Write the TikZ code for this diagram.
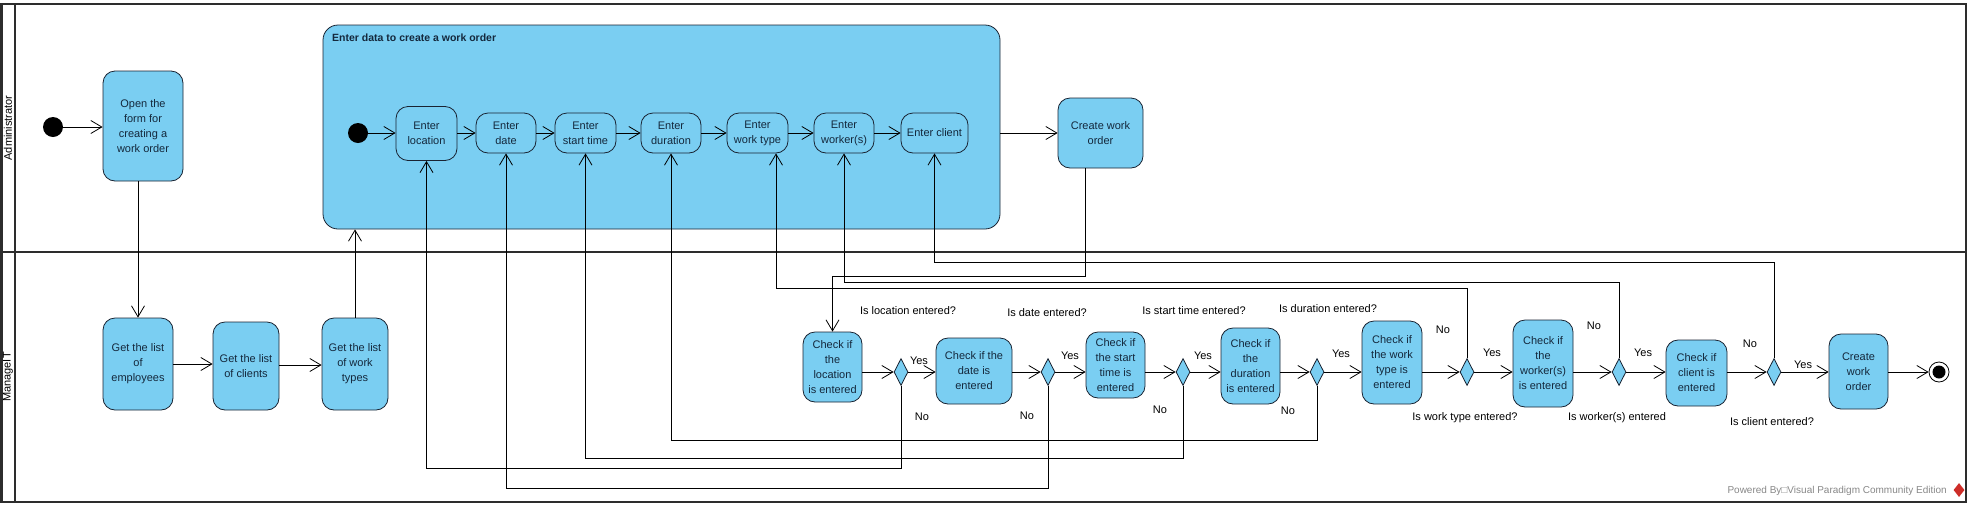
\documentclass[tikz,border=0pt]{standalone}
\usepackage{fontspec}
\setmainfont{Liberation Sans}
\usetikzlibrary{arrows.meta,shapes.geometric,calc}
\definecolor{vpblue}{RGB}{122,206,242}
\definecolor{vpline}{RGB}{25,35,50}
\definecolor{vptext}{RGB}{20,40,60}
\definecolor{framecol}{RGB}{45,45,45}
\definecolor{logored}{RGB}{205,45,40}
\definecolor{pwgray}{RGB}{135,135,135}
\begin{document}
\begin{tikzpicture}[x=1pt,y=-1pt,
  act/.style={draw=vpline, fill=vpblue, rounded corners=12pt, line width=0.8pt, align=center, inner sep=0pt, text=vptext, font=\fontsize{11}{15}\selectfont},
  dec/.style={diamond, draw=vpline, fill=vpblue, line width=0.8pt, minimum width=14pt, minimum height=27pt, inner sep=0pt},
  initdot/.style={circle, fill=black, minimum size=20pt, inner sep=0pt},
  flow/.style={-{Straight Barb[length=11pt,width=13pt]}, line width=0.8pt, draw=black},
  lbl/.style={font=\fontsize{11}{13}\selectfont, inner sep=0pt, text=black},
  lane/.style={framecol, line width=2.2pt}
]
\useasboundingbox (0,0) rectangle (1970,507);
% frame
\draw[lane] (1.5,4) rectangle (1966,502);
\draw[lane] (15,4) -- (15,502);
\draw[lane] (1.5,252) -- (1966,252);
\node[rotate=90, lbl] (laneA) at (8,128) {Administrator};
\node[rotate=90, lbl] (laneM) at (8,377) {ManageIT};

% container
\node[draw=vpline, fill=vpblue, rounded corners=15pt, line width=0.8pt, minimum width=677pt, minimum height=204pt, inner sep=0pt] (cont) at (661.5,127) {};
\node[anchor=west, font=\bfseries\fontsize{10.5}{12}\selectfont, text=vptext, inner sep=0pt] (conttitle) at (332,38) {Enter data to create a work order};

% administrator lane
\node[initdot] (i1) at (53,127) {};
\node[act, minimum width=80pt, minimum height=110pt] (open) at (143,126) {Open the\\form for\\creating a\\work order};
\node[initdot] (i2) at (358,133) {};
\node[act, minimum width=61pt, minimum height=54pt] (loc) at (426.5,133.5) {Enter\\location};
\node[act, minimum width=60pt, minimum height=40pt] (date) at (506,133) {Enter\\date};
\node[act, minimum width=61pt, minimum height=40pt] (stime) at (585.5,133) {Enter\\start time};
\node[act, minimum width=60pt, minimum height=40pt] (dur) at (671,133) {Enter\\duration};
\node[act, minimum width=61pt, minimum height=40pt] (wtype) at (757.5,133) {Enter\\work type};
\node[act, minimum width=60pt, minimum height=40pt] (worker) at (844,133) {Enter\\worker(s)};
\node[act, minimum width=67pt, minimum height=40pt] (client) at (934.5,133) {Enter client};
\node[act, minimum width=85pt, minimum height=70pt] (cwo) at (1100.5,133) {Create work\\order};

% manageIT lane
\node[act, minimum width=70pt, minimum height=92pt] (emp) at (138,364) {Get the list\\of\\employees};
\node[act, minimum width=66pt, minimum height=88pt] (cli) at (246,366) {Get the list\\of clients};
\node[act, minimum width=66pt, minimum height=92pt] (wt) at (355,364) {Get the list\\of work\\types};

\node[act, minimum width=59pt, minimum height=70pt] (chkloc) at (832.5,367) {Check if\\the\\location\\is entered};
\node[dec] (d1) at (901,372) {};
\node[act, minimum width=76pt, minimum height=66pt] (chkdate) at (974,371) {Check if the\\date is\\entered};
\node[dec] (d2) at (1048,372) {};
\node[act, minimum width=59pt, minimum height=66pt] (chkstart) at (1115.5,365) {Check if\\the start\\time is\\entered};
\node[dec] (d3) at (1183,372) {};
\node[act, minimum width=59pt, minimum height=76pt] (chkdur) at (1250.5,366) {Check if\\the\\duration\\is entered};
\node[dec] (d4) at (1317,372) {};
\node[act, minimum width=60pt, minimum height=83pt] (chkwt) at (1392,362.5) {Check if\\the work\\type is\\entered};
\node[dec] (d5) at (1467,372) {};
\node[act, minimum width=60pt, minimum height=87pt] (chkwk) at (1543,363.5) {Check if\\the\\worker(s)\\is entered};
\node[dec] (d6) at (1619,372) {};
\node[act, minimum width=61pt, minimum height=66pt] (chkcl) at (1696.5,373) {Check if\\client is\\entered};
\node[dec] (d7) at (1774,372) {};
\node[act, minimum width=59pt, minimum height=75pt] (cwo2) at (1858.5,371.5) {Create\\work\\order};
\node[circle, draw=black, fill=white, line width=0.8pt, minimum size=20pt, inner sep=0pt] (fin) at (1939,372) {};
\node[circle, fill=black, minimum size=13pt, inner sep=0pt] (findot) at (fin) {};

% labels
\node[lbl] (q1) at (908,311) {Is location entered?};
\node[lbl] (q2) at (1047,313) {Is date entered?};
\node[lbl] (q3) at (1194,311) {Is start time entered?};
\node[lbl] (q4) at (1328,309) {Is duration entered?};
\node[lbl] (q5) at (1465,418) {Is work type entered?};
\node[lbl] (q6) at (1617,418) {Is worker(s) entered};
\node[lbl] (q7) at (1772,422) {Is client entered?};
\node[lbl] (y1) at (919,361) {Yes};
\node[lbl] (n1) at (922,417) {No};
\node[lbl] (y2) at (1070,356) {Yes};
\node[lbl] (n2) at (1027,416) {No};
\node[lbl] (y3) at (1203,356) {Yes};
\node[lbl] (n3) at (1160,410) {No};
\node[lbl] (y4) at (1341,354) {Yes};
\node[lbl] (n4) at (1288,411) {No};
\node[lbl] (y5) at (1492,353) {Yes};
\node[lbl] (n5) at (1443,330) {No};
\node[lbl] (y6) at (1643,353) {Yes};
\node[lbl] (n6) at (1594,326) {No};
\node[lbl] (y7) at (1803,365) {Yes};
\node[lbl] (n7) at (1750,344) {No};

\node[anchor=east, inner sep=0pt, text=pwgray, font=\fontsize{10}{12}\selectfont] (pw) at (1947,491) {Powered By□Visual Paradigm Community Edition};
\node[diamond, fill=logored, minimum width=11pt, minimum height=14pt, inner sep=0pt] (logo) at (1959,490) {};

% connectors - administrator
\draw[flow] (i1.east) -- (open.west |- i1.east);
\draw[flow] (emp.north |- open.south) -- (emp.north);
\draw[flow] (emp.east) -- (emp.east -| cli.west);
\draw[flow] (cli.east |- 0,365) -- (wt.west |- 0,365);
\draw[flow] (wt.north) -- (wt.north |- cont.south);
\draw[flow] (i2.east) -- (i2.east -| loc.west);
\draw[flow] (loc.east |- date.west) -- (date.west);
\draw[flow] (date.east) -- (stime.west);
\draw[flow] (stime.east) -- (dur.west);
\draw[flow] (dur.east) -- (wtype.west);
\draw[flow] (wtype.east) -- (worker.west);
\draw[flow] (worker.east) -- (client.west);
\draw[flow] (cont.east |- cwo.west) -- (cwo.west);
\draw[flow] ([xshift=-15pt]cwo.south) -- ++(0,108) -| (chkloc.north);

% main flow - manageIT
\draw[flow] (d1.west -| chkloc.east) -- (d1.west);
\draw[flow] (d1.east) -- (d1.east -| chkdate.west);
\draw[flow] (d2.west -| chkdate.east) -- (d2.west);
\draw[flow] (d2.east) -- (d2.east -| chkstart.west);
\draw[flow] (d3.west -| chkstart.east) -- (d3.west);
\draw[flow] (d3.east) -- (d3.east -| chkdur.west);
\draw[flow] (d4.west -| chkdur.east) -- (d4.west);
\draw[flow] (d4.east) -- (d4.east -| chkwt.west);
\draw[flow] (d5.west -| chkwt.east) -- (d5.west);
\draw[flow] (d5.east) -- (d5.east -| chkwk.west);
\draw[flow] (d6.west -| chkwk.east) -- (d6.west);
\draw[flow] (d6.east) -- (d6.east -| chkcl.west);
\draw[flow] (d7.west -| chkcl.east) -- (d7.west);
\draw[flow] (d7.east) -- (d7.east -| cwo2.west);
\draw[flow] (fin.west -| cwo2.east) -- (fin.west);

% No loops
\draw[flow] (d1.south) -- ++(0,82.5) -| (loc.south);
\draw[flow] (d2.south) -- ++(0,102.5) -| (date.south);
\draw[flow] (d3.south) -- ++(0,72.5) -| (stime.south);
\draw[flow] (d4.south) -- ++(0,54.5) -| (dur.south);
\draw[flow] (d5.north) -- ++(0,-69.5) -| ([xshift=18.5pt]wtype.south);
\draw[flow] (d6.north) -- ++(0,-75.5) -| (worker.south);
\draw[flow] (d7.north) -- ++(0,-95.5) -| (client.south);
\end{tikzpicture}
\end{document}
